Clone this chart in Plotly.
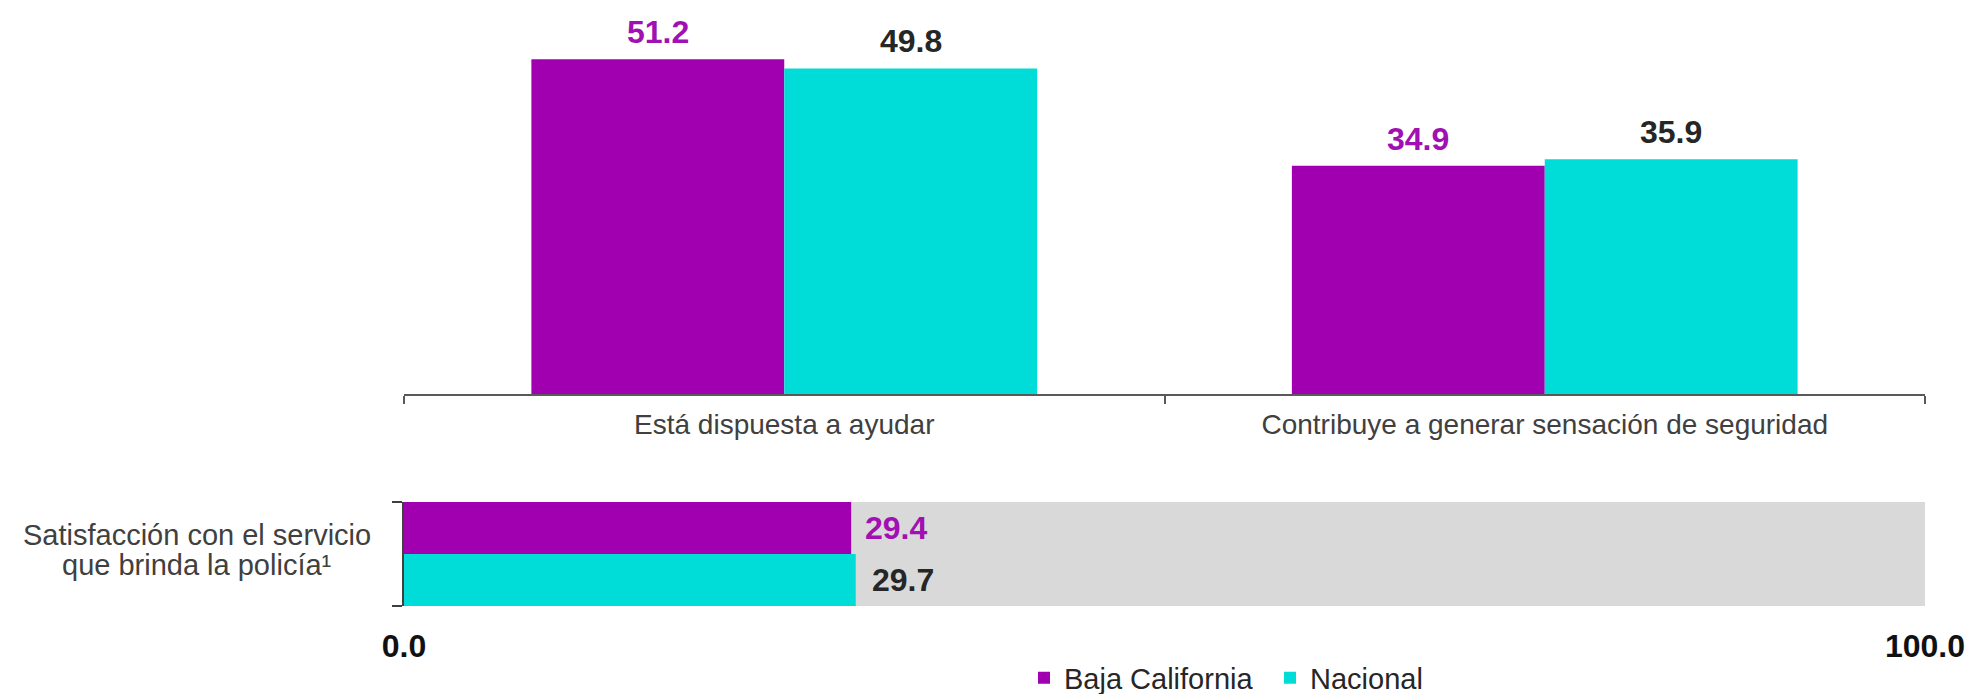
import plotly.graph_objects as go

# ---------------- data ----------------
categories = ["Está dispuesta a ayudar", "Contribuye a generar sensación de seguridad"]
series_names = ["Baja California", "Nacional"]
baja_values = [51.2, 34.9]
nacional_values = [49.8, 35.9]

sat_category = ["Satisfacción con el servicio que brinda la policía¹"]
sat_label_lines = ["Satisfacción con el servicio", "que brinda la policía¹"]
sat_baja = [29.4]
sat_nacional = [29.7]
scale_max = [100.0]
scale_tickvals = [0, 100]
scale_ticktext = ["0.0", "100.0"]

# ---------------- style ----------------
PAGE_OFF = 8                      # default body margin of the html page
W, H = 1980 - PAGE_OFF, 694 - PAGE_OFF
PURPLE = "#A000B0"
CYAN = "#00DDD8"
PURPLE_TXT = "#A010B2"
DARK_TXT = "#262626"
GREY_TXT = "#404040"
FONT = "Liberation Sans, Arial, sans-serif"
BARGAP = 0.335

def px_x(p):
    return (p - PAGE_OFF) / W

def px_y(p):
    return (H - (p - PAGE_OFF)) / H

X_DOM = [px_x(404), px_x(1925)]
TOP_DOM = [px_y(394), px_y(20)]
BOT_DOM = [px_y(606), px_y(502)]
TOP_RANGE = [0, 57.2]

fig = go.Figure()

# top grouped bars
fig.add_trace(go.Bar(x=categories, y=baja_values, name=series_names[0],
                     marker=dict(color=PURPLE, line=dict(width=0)),
                     xaxis="x", yaxis="y", hoverinfo="skip"))
fig.add_trace(go.Bar(x=categories, y=nacional_values, name=series_names[1],
                     marker=dict(color=CYAN, line=dict(width=0)),
                     xaxis="x", yaxis="y", hoverinfo="skip"))

# bottom horizontal bars
fig.add_trace(go.Bar(y=sat_category, x=sat_baja, orientation="h", name=series_names[0],
                     marker=dict(color=PURPLE, line=dict(width=0)), width=0.5, offset=-0.5,
                     xaxis="x2", yaxis="y2", showlegend=False, hoverinfo="skip"))
fig.add_trace(go.Bar(y=sat_category, x=sat_nacional, orientation="h", name=series_names[1],
                     marker=dict(color=CYAN, line=dict(width=0)), width=0.5, offset=0.0,
                     xaxis="x2", yaxis="y2", showlegend=False, hoverinfo="skip"))

# grey background of the 0-100 scale
fig.add_shape(type="rect", xref="x2", yref="y2 domain", x0=0, x1=scale_max[0], y0=0, y1=1,
              fillcolor="#D9D9D9", line=dict(width=0), layer="below")

annotations = []
half = (1 - BARGAP) / 4.0
for i, (b, n) in enumerate(zip(baja_values, nacional_values)):
    annotations.append(dict(x=i - half, y=b, xref="x", yref="y", text=f"{b:.1f}",
                            showarrow=False, yanchor="bottom", xanchor="center", yshift=7,
                            font=dict(family=FONT, size=32, color=PURPLE_TXT, weight="bold")))
    annotations.append(dict(x=i + half, y=n, xref="x", yref="y", text=f"{n:.1f}",
                            showarrow=False, yanchor="bottom", xanchor="center", yshift=7,
                            font=dict(family=FONT, size=32, color=DARK_TXT, weight="bold")))

annotations.append(dict(x=sat_baja[0], y=-0.25, xref="x2", yref="y2", text=f"{sat_baja[0]:.1f}",
                        showarrow=False, xanchor="left", yanchor="middle", xshift=12,
                        font=dict(family=FONT, size=32, color=PURPLE_TXT, weight="bold")))
annotations.append(dict(x=sat_nacional[0], y=0.25, xref="x2", yref="y2", text=f"{sat_nacional[0]:.1f}",
                        showarrow=False, xanchor="left", yanchor="middle", xshift=14,
                        font=dict(family=FONT, size=32, color=DARK_TXT, weight="bold")))

for line, yc in zip(sat_label_lines, [535, 565]):
    annotations.append(dict(x=px_x(197), y=px_y(yc), xref="paper", yref="paper", text=line,
                            showarrow=False, xanchor="center", yanchor="middle",
                            font=dict(family=FONT, size=29, color=GREY_TXT)))

fig.update_layout(
    width=W, height=H,
    margin=dict(l=0, r=0, t=0, b=0, autoexpand=False),
    paper_bgcolor="white", plot_bgcolor="rgba(0,0,0,0)",
    barmode="group", bargap=BARGAP, bargroupgap=0,
    font=dict(family=FONT, color=GREY_TXT),
    showlegend=True,
    legend=dict(orientation="h", x=px_x(1024), xanchor="left", y=px_y(678), yanchor="middle",
                font=dict(family=FONT, size=29, color=DARK_TXT),
                entrywidthmode="pixels", entrywidth=201, bgcolor="rgba(0,0,0,0)",
                itemclick=False, itemdoubleclick=False),
    xaxis=dict(domain=X_DOM, anchor="y", type="category", range=[-0.5, len(categories) - 0.5],
               showline=True, linecolor="#595959", linewidth=1.5,
               ticks="outside", tickson="boundaries", ticklen=8, tickcolor="#595959", tickwidth=1.5,
               ticklabelstandoff=5,
               tickfont=dict(family=FONT, size=28, color=GREY_TXT), showgrid=False, zeroline=False),
    yaxis=dict(domain=TOP_DOM, anchor="x", range=TOP_RANGE, visible=False),
    xaxis2=dict(domain=X_DOM, anchor="y2", range=[0, scale_max[0]], tickvals=scale_tickvals,
                ticktext=scale_ticktext, showline=False, showgrid=False, zeroline=False, ticks="",
                ticklabelstandoff=18,
                tickfont=dict(family=FONT, size=32, color="#111111", weight="bold")),
    yaxis2=dict(domain=BOT_DOM, anchor="x2", type="category", range=[0.5, -0.5],
                showline=True, linecolor="#404040", linewidth=1.5,
                ticks="outside", tickson="boundaries", ticklen=10, tickcolor="#404040", tickwidth=1.5,
                showticklabels=False, showgrid=False, zeroline=False),
    annotations=annotations,
)

fig.write_html("out.html")
